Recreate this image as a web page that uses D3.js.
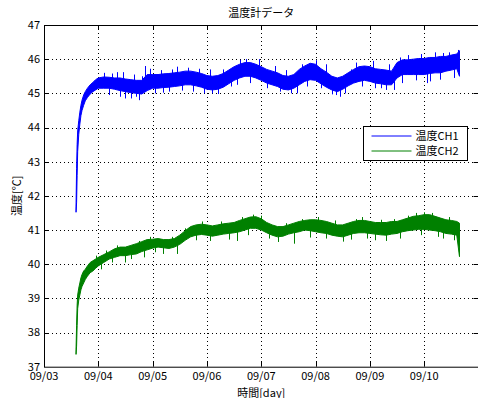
<!DOCTYPE html>
<html>
<head>
<meta charset="utf-8">
<script src="https://cdn.jsdelivr.net/npm/d3@7"></script>
<style>
  body { margin: 0; background: #fff; }
  svg { display: block; font-family: "Noto Sans CJK JP", "Liberation Sans", sans-serif; }
</style>
</head>
<body>
<svg id="chart" width="478" height="398"></svg>
<script>
// days since 09/03 00:00
const days = [0.59, 0.6, 0.61, 0.62, 0.64, 0.66, 0.68, 0.7, 0.73, 0.76, 0.8, 0.85, 0.9, 0.95,
  1.0, 1.1, 1.2, 1.3, 1.4, 1.5, 1.6, 1.7, 1.8, 1.9, 2.0, 2.1, 2.2, 2.3, 2.4, 2.5, 2.6, 2.7, 2.8, 2.9,
  3.0, 3.1, 3.2, 3.3, 3.4, 3.5, 3.6, 3.7, 3.8, 3.9, 4.0, 4.1, 4.2, 4.3, 4.4, 4.5, 4.6, 4.7, 4.8, 4.9,
  5.0, 5.1, 5.2, 5.3, 5.4, 5.5, 5.6, 5.7, 5.8, 5.9, 6.0, 6.1, 6.2, 6.3, 6.4, 6.5, 6.6, 6.7, 6.8, 6.9,
  7.0, 7.1, 7.2, 7.3, 7.4, 7.5, 7.6, 7.65];

// CH1 band (low / high of the noise)
const ch1Lo = [41.52, 41.8, 42.6, 43.3, 43.8, 44.1, 44.35, 44.5, 44.65, 44.78, 44.88, 44.98, 45.05, 45.1,
  45.15, 45.15, 45.15, 45.12, 45.08, 45.05, 45.02, 45.0, 44.98, 45.08, 45.15, 45.15, 45.17, 45.18, 45.2, 45.22, 45.25, 45.25, 45.22, 45.18,
  45.12, 45.1, 45.12, 45.18, 45.28, 45.38, 45.45, 45.5, 45.5, 45.45, 45.38, 45.3, 45.25, 45.2, 45.12, 45.1, 45.15, 45.25, 45.35, 45.4,
  45.38, 45.28, 45.18, 45.1, 45.05, 45.12, 45.22, 45.3, 45.35, 45.38, 45.35, 45.3, 45.28, 45.25, 45.25, 45.45, 45.55, 45.55, 45.55, 45.55,
  45.55, 45.58, 45.6, 45.6, 45.65, 45.68, 45.72, 45.5];
const ch1Hi = [41.7, 42.8, 43.5, 43.9, 44.2, 44.45, 44.65, 44.8, 44.95, 45.05, 45.15, 45.25, 45.32, 45.4,
  45.45, 45.48, 45.47, 45.45, 45.45, 45.42, 45.4, 45.38, 45.38, 45.55, 45.55, 45.55, 45.57, 45.58, 45.6, 45.62, 45.65, 45.65, 45.62, 45.58,
  45.52, 45.5, 45.52, 45.58, 45.68, 45.78, 45.85, 45.9, 45.9, 45.85, 45.78, 45.7, 45.65, 45.6, 45.52, 45.5, 45.55, 45.7, 45.8, 45.88,
  45.85, 45.72, 45.62, 45.5, 45.45, 45.5, 45.6, 45.7, 45.78, 45.8, 45.78, 45.72, 45.7, 45.68, 45.65, 45.9, 45.98, 45.98, 46.0, 46.02,
  46.02, 46.05, 46.05, 46.08, 46.08, 46.12, 46.15, 46.25];

// CH2 band
const ch2Lo = [37.36, 37.6, 38.2, 38.7, 38.95, 39.1, 39.25, 39.35, 39.45, 39.55, 39.65, 39.75, 39.8, 39.88,
  39.95, 40.05, 40.15, 40.2, 40.25, 40.25, 40.28, 40.3, 40.37, 40.42, 40.47, 40.5, 40.48, 40.46, 40.5, 40.58, 40.7, 40.8, 40.85, 40.87,
  40.85, 40.82, 40.85, 40.88, 40.9, 40.92, 40.95, 41.0, 41.05, 41.05, 41.0, 40.92, 40.85, 40.8, 40.82, 40.88, 40.92, 40.95, 41.0, 40.98,
  40.95, 40.92, 40.9, 40.85, 40.82, 40.8, 40.85, 40.9, 40.92, 40.92, 40.9, 40.88, 40.86, 40.85, 40.88, 40.9, 40.95, 40.98, 41.0, 41.02,
  41.02, 41.0, 40.98, 40.95, 40.9, 40.88, 40.85, 40.22];
const ch2Hi = [37.5, 38.2, 38.8, 39.1, 39.3, 39.45, 39.6, 39.7, 39.8, 39.85, 39.95, 40.05, 40.1, 40.15,
  40.2, 40.28, 40.36, 40.45, 40.5, 40.5, 40.55, 40.6, 40.66, 40.72, 40.73, 40.75, 40.72, 40.72, 40.75, 40.85, 40.98, 41.1, 41.15, 41.17,
  41.15, 41.12, 41.15, 41.18, 41.2, 41.22, 41.28, 41.33, 41.38, 41.39, 41.33, 41.22, 41.15, 41.1, 41.1, 41.15, 41.2, 41.25, 41.28, 41.3,
  41.3, 41.28, 41.25, 41.2, 41.15, 41.15, 41.2, 41.25, 41.28, 41.28, 41.25, 41.22, 41.22, 41.22, 41.25, 41.25, 41.3, 41.35, 41.4, 41.42,
  41.45, 41.45, 41.4, 41.35, 41.3, 41.28, 41.25, 41.2];

// single outliers that stick out of the band
const ch1SpikeDays = [1.1, 1.2, 1.25, 1.35, 1.4, 1.45, 1.5, 1.6, 1.65, 1.7, 1.75, 1.8, 1.86, 1.95,
  2.05, 2.15, 2.2, 2.3, 2.35, 2.45, 2.55, 2.65, 2.75, 2.85, 2.95, 3.05, 3.1, 3.2, 3.3, 3.45, 3.55, 3.6,
  3.72, 3.8, 3.95, 4.1, 4.25, 4.35, 4.45, 4.55, 4.65, 4.75, 4.85, 5.0, 5.1, 5.2, 5.3, 5.38, 5.45, 5.55,
  5.65, 5.75, 5.85, 6.05, 6.1, 6.2, 6.3, 6.35, 6.45, 6.55, 6.6, 6.7, 6.85, 6.95, 7.05, 7.1, 7.2, 7.3,
  7.35, 7.45, 7.55, 7.63];
const ch1SpikeVals = [45.6, 44.95, 45.58, 45.62, 44.9, 45.62, 44.85, 44.85, 45.55, 44.9, 44.8, 45.5, 45.8, 45.72,
  45.0, 45.68, 45.02, 45.05, 45.7, 45.78, 45.08, 45.75, 45.05, 45.72, 45.0, 45.7, 45.0, 44.98, 45.7, 45.2, 45.25, 45.98,
  46.0, 45.3, 46.0, 45.15, 45.8, 45.05, 45.68, 45.0, 45.0, 45.85, 45.2, 45.97, 45.15, 45.85, 44.97, 44.95, 44.9, 45.0,
  45.7, 45.9, 45.2, 45.95, 45.15, 45.15, 45.1, 45.85, 45.1, 46.05, 45.3, 46.12, 45.38, 46.15, 45.3, 45.35, 46.2, 45.4,
  46.18, 46.2, 45.45, 46.27];
const ch2SpikeDays = [0.95, 1.05, 1.15, 1.25, 1.35, 1.5, 1.6, 1.75, 1.85, 1.95, 2.05, 2.2, 2.35, 2.45,
  2.6, 2.8, 2.9, 3.05, 3.25, 3.4, 3.55, 3.65, 3.75, 3.85, 4.0, 4.15, 4.3, 4.45, 4.6, 4.75, 4.9, 5.05,
  5.2, 5.35, 5.5, 5.65, 5.75, 5.85, 5.95, 6.1, 6.2, 6.3, 6.45, 6.55, 6.7, 6.85, 6.95, 7.0, 7.15, 7.25,
  7.35, 7.45, 7.55];
const ch2SpikeVals = [40.25, 39.85, 40.4, 40.05, 40.55, 40.05, 40.15, 40.68, 40.2, 40.8, 40.35, 40.3, 40.8, 40.3,
  41.05, 40.7, 41.25, 40.68, 41.25, 40.72, 40.68, 41.38, 40.85, 41.45, 41.42, 40.75, 40.65, 41.2, 40.6, 41.32, 40.78, 41.38,
  40.75, 41.28, 40.66, 40.72, 41.32, 41.38, 40.75, 40.7, 41.3, 40.68, 41.32, 40.75, 41.42, 41.5, 40.85, 41.52, 41.5, 40.8,
  40.75, 41.38, 40.7];

const xTicks = [0, 1, 2, 3, 4, 5, 6, 7];
const xLabels = ['09/03', '09/04', '09/05', '09/06', '09/07', '09/08', '09/09', '09/10'];
const yTicks = [37, 38, 39, 40, 41, 42, 43, 44, 45, 46, 47];
const seriesNames = ['温度CH1', '温度CH2'];
const seriesColors = ['#0000ff', '#008000'];

const plotL = 44, plotR = 478.5, plotT = 25, plotB = 366.7;

const svg = d3.select('#chart');

const x = d3.scaleLinear().domain([0, 8]).range([plotL, plotR]);
const y = d3.scaleLinear().domain([37, 47]).range([plotB, plotT]);

// grid
const grid = svg.append('g')
  .attr('stroke', '#000')
  .attr('stroke-width', 1)
  .attr('stroke-dasharray', '1,3');
grid.selectAll('line.vx')
  .data(xTicks.slice(1))
  .join('line')
  .attr('x1', (d) => Math.round(x(d)) + 0.5)
  .attr('x2', (d) => Math.round(x(d)) + 0.5)
  .attr('y1', plotT)
  .attr('y2', plotB);
grid.selectAll('line.hy')
  .data(yTicks.slice(1, -1))
  .join('line')
  .attr('y1', (d) => Math.round(y(d)) + 0.5)
  .attr('y2', (d) => Math.round(y(d)) + 0.5)
  .attr('x1', plotL)
  .attr('x2', plotR);

// data bands
const seriesData = [
  { lo: ch1Lo, hi: ch1Hi, sd: ch1SpikeDays, sv: ch1SpikeVals },
  { lo: ch2Lo, hi: ch2Hi, sd: ch2SpikeDays, sv: ch2SpikeVals },
];

const area = d3.area()
  .x((d) => x(d.t))
  .y0((d) => y(d.lo))
  .y1((d) => y(d.hi));

seriesData.forEach((s, k) => {
  const rows = days.map((t, i) => ({ t: t, lo: s.lo[i], hi: s.hi[i] }));
  svg.append('path')
    .datum(rows)
    .attr('d', area)
    .attr('fill', seriesColors[k])
    .attr('stroke', seriesColors[k])
    .attr('stroke-width', 1);

  const bis = d3.bisector((d) => d).left;
  svg.append('g')
    .attr('stroke', seriesColors[k])
    .attr('stroke-width', 1)
    .selectAll('line')
    .data(s.sd.map((t, i) => ({ t: t, v: s.sv[i] })))
    .join('line')
    .attr('x1', (d) => Math.round(x(d.t)) + 0.5)
    .attr('x2', (d) => Math.round(x(d.t)) + 0.5)
    .attr('y1', (d) => y(d.v))
    .attr('y2', (d) => {
      const i = Math.min(bis(days, d.t), days.length - 1);
      return y((s.lo[i] + s.hi[i]) / 2);
    });
});

// axes (ticks inward)
const tickLen = 5;
const axes = svg.append('g').attr('stroke', '#000').attr('stroke-width', 1);
xTicks.slice(1).forEach((d) => {
  const px = Math.round(x(d)) + 0.5;
  axes.append('line').attr('x1', px).attr('x2', px).attr('y1', plotB).attr('y2', plotB - tickLen);
  axes.append('line').attr('x1', px).attr('x2', px).attr('y1', plotT).attr('y2', plotT + tickLen);
});
yTicks.slice(1, -1).forEach((d) => {
  const py = Math.round(y(d)) + 0.5;
  axes.append('line').attr('y1', py).attr('y2', py).attr('x1', plotL).attr('x2', plotL + tickLen);
  axes.append('line').attr('y1', py).attr('y2', py).attr('x1', plotR).attr('x2', plotR - tickLen);
});
axes.append('rect')
  .attr('x', plotL + 0.5)
  .attr('y', plotT + 0.5)
  .attr('width', plotR - plotL)
  .attr('height', plotB - plotT)
  .attr('fill', 'none');

// tick labels
svg.append('g')
  .attr('font-size', 11)
  .attr('text-anchor', 'middle')
  .selectAll('text')
  .data(xTicks)
  .join('text')
  .attr('x', (d) => x(d))
  .attr('y', plotB + 13)
  .text((d, i) => xLabels[i]);

svg.append('g')
  .attr('font-size', 11)
  .attr('text-anchor', 'end')
  .selectAll('text')
  .data(yTicks)
  .join('text')
  .attr('x', plotL - 4)
  .attr('y', (d) => y(d))
  .attr('dy', '0.36em')
  .text((d) => d);

// titles
svg.append('text')
  .attr('x', (plotL + plotR) / 2)
  .attr('y', 17)
  .attr('text-anchor', 'middle')
  .attr('font-size', 11)
  .text('温度計データ');

svg.append('text')
  .attr('x', (plotL + plotR) / 2)
  .attr('y', 396.5)
  .attr('text-anchor', 'middle')
  .attr('font-size', 11)
  .text('時間[day]');

svg.append('text')
  .attr('transform', `translate(21,${(plotT + plotB) / 2}) rotate(-90)`)
  .attr('text-anchor', 'middle')
  .attr('font-size', 11)
  .text('温度[℃]');

// legend
const legend = svg.append('g').attr('transform', 'translate(363.5,126.5)');
legend.append('rect')
  .attr('width', 104)
  .attr('height', 34)
  .attr('fill', '#fff')
  .attr('stroke', '#000');
seriesNames.forEach((name, i) => {
  const ly = 9.5 + i * 15;
  legend.append('line')
    .attr('x1', 8).attr('x2', 48)
    .attr('y1', ly).attr('y2', ly)
    .attr('stroke', seriesColors[i]);
  legend.append('text')
    .attr('x', 52)
    .attr('y', ly)
    .attr('dy', '0.36em')
    .attr('font-size', 11)
    .text(name);
});
</script>
</body>
</html>
